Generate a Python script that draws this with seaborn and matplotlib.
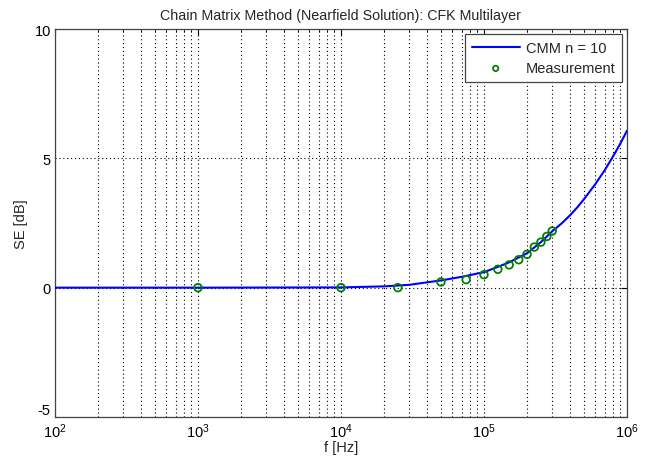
import matplotlib
matplotlib.use("Agg")
import matplotlib.pyplot as plt
import matplotlib.ticker as mticker
import seaborn as sns
import numpy as np

# CMM model curve
cmm_f = [1e2, 1e3, 1e4, 2e4, 3e4, 5e4, 7e4, 1e5, 1.3e5, 1.5e5, 2e5, 2.5e5, 3e5,
         3.5e5, 4e5, 4.5e5, 5e5, 6e5, 7e5, 8e5, 9e5, 1e6]
cmm_se = [0.0, 0.0, 0.01, 0.05, 0.11, 0.28, 0.42, 0.60, 0.84, 0.98, 1.33, 1.76, 2.18,
          2.49, 2.80, 3.11, 3.42, 4.00, 4.55, 5.08, 5.58, 6.07]

# Measurement points
meas_f = [1e3, 1e4, 2.5e4, 5e4, 7.5e4, 1e5, 1.25e5, 1.5e5, 1.75e5, 2e5, 2.25e5,
          2.5e5, 2.75e5, 3e5]
meas_se = [0.0, 0.0, 0.0, 0.22, 0.31, 0.50, 0.71, 0.88, 1.08, 1.29, 1.57,
           1.76, 1.98, 2.19]

y_ticks = [-5, 0, 5, 10]
y_tick_labels = ['-5', '0', '5', '10']

sns.set_style("white")
plt.rcParams['font.family'] = ['Liberation Sans', 'DejaVu Sans']
plt.rcParams['axes.unicode_minus'] = False

fig = plt.figure(figsize=(6.49, 4.60), dpi=100)
ax = fig.add_axes([55/649, 1-418/460, (627-55)/649, (418-30)/460])

sns.lineplot(x=cmm_f, y=cmm_se, ax=ax, color='#0000FF', linewidth=1.5,
             label='CMM n = 10', zorder=3)
sns.scatterplot(x=meas_f, y=meas_se, ax=ax, marker='o', s=30,
                facecolors='none', edgecolor='#008000', linewidth=1.3,
                label='Measurement', zorder=4)

ax.set_xscale('log')
ax.set_xlim(1e2, 1e6)
ax.set_ylim(-5, 10)
ax.set_yticks(y_ticks)
ax.set_yticklabels(y_tick_labels)
ax.xaxis.set_major_locator(mticker.LogLocator(base=10, numticks=10))
ax.xaxis.set_minor_locator(mticker.LogLocator(base=10, subs=np.arange(2, 10), numticks=20))
ax.xaxis.set_minor_formatter(mticker.NullFormatter())

ax.grid(True, which='major', axis='both', color='black', linestyle=(0, (1, 2.5)), linewidth=0.8)
ax.grid(True, which='minor', axis='x', color='black', linestyle=(0, (1, 2.5)), linewidth=0.8)

ax.tick_params(axis='both', which='both', direction='in', top=True, right=True,
               labelsize=10.5, colors='black')
ax.tick_params(axis='y', pad=3)
ax.tick_params(axis='x', pad=3)
ax.tick_params(which='major', length=4)
ax.tick_params(which='minor', length=2)
for s in ax.spines.values():
    s.set_color('#444444')
    s.set_linewidth(0.9)

# lift the bottom y label slightly, as in the reference
ax.get_yticklabels()[0].set_verticalalignment('bottom')

ax.set_title('Chain Matrix Method (Nearfield Solution): CFK Multilayer', fontsize=10.3, pad=7)
ax.set_xlabel('f [Hz]', fontsize=10.5, labelpad=0)
ax.set_ylabel('SE [dB]', fontsize=10.5, labelpad=5)

leg = ax.legend(loc='upper right', fontsize=10.5, frameon=True, fancybox=False,
                edgecolor='#444444', framealpha=1, borderaxespad=0.35,
                handlelength=3.3, borderpad=0.45, labelspacing=0.45,
                handletextpad=0.4, markerscale=0.7)
leg.get_frame().set_linewidth(0.9)

fig.savefig('out.png', dpi=100)
